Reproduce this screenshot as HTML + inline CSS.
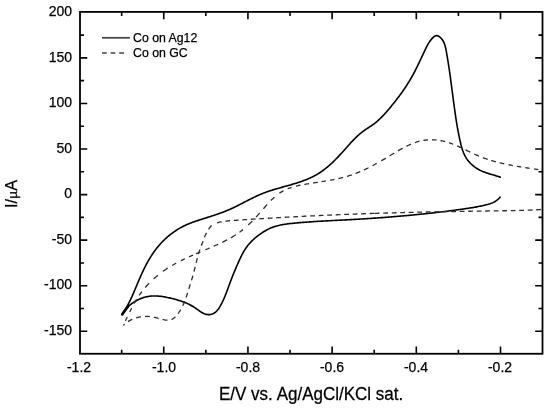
<!DOCTYPE html>
<html><head><meta charset="utf-8"><style>
html,body{margin:0;padding:0;background:#fff;}
body{width:550px;height:411px;position:relative;overflow:hidden;font-family:"Liberation Sans",sans-serif;color:#000;}
.t,.leg{will-change:transform;-webkit-text-stroke:0.25px #000;}
.t{position:absolute;font-size:14px;line-height:14px;white-space:nowrap;}
.xl{transform:translateX(-50%);}
.yl{text-align:right;width:40px;}
.leg{position:absolute;font-size:12.3px;line-height:12px;white-space:nowrap;}
</style></head><body>

<div id="w" style="position:absolute;left:0;top:0;width:550px;height:411px;background:#fff">
<svg width="550" height="411" viewBox="0 0 550 411" style="position:absolute;left:0;top:0">
<path d="M500.00,197.20 L499.32,198.02 L498.61,198.77 L497.86,199.47 L497.09,200.11 L496.29,200.70 L495.46,201.25 L494.61,201.74 L493.75,202.20 L492.86,202.62 L491.95,203.01 L491.03,203.36 L490.10,203.69 L489.15,203.99 L488.20,204.28 L487.24,204.54 L486.27,204.80 L485.30,205.04 L484.34,205.27 L483.36,205.50 L482.39,205.72 L481.42,205.94 L480.44,206.14 L479.46,206.34 L478.48,206.54 L477.50,206.73 L476.52,206.91 L475.54,207.09 L474.56,207.26 L473.57,207.43 L472.59,207.59 L471.60,207.76 L470.62,207.91 L469.63,208.07 L468.64,208.22 L467.65,208.37 L466.67,208.52 L465.68,208.66 L464.69,208.80 L463.70,208.95 L462.71,209.09 L461.72,209.23 L460.73,209.37 L459.74,209.51 L458.75,209.64 L457.76,209.78 L456.77,209.91 L455.78,210.05 L454.79,210.18 L453.80,210.31 L452.81,210.45 L451.82,210.58 L450.83,210.71 L449.84,210.83 L448.85,210.96 L447.85,211.09 L446.86,211.21 L445.87,211.34 L444.88,211.46 L443.89,211.59 L442.90,211.71 L441.90,211.83 L440.91,211.95 L439.92,212.07 L438.93,212.19 L437.94,212.30 L436.94,212.42 L435.95,212.54 L434.96,212.65 L433.97,212.77 L432.97,212.88 L431.98,212.99 L430.99,213.10 L430.00,213.21 L429.00,213.32 L428.01,213.43 L427.02,213.54 L426.02,213.65 L425.03,213.75 L424.04,213.86 L423.04,213.96 L422.05,214.07 L421.05,214.17 L420.06,214.27 L419.07,214.37 L418.07,214.47 L417.08,214.57 L416.08,214.67 L415.09,214.77 L414.10,214.87 L413.10,214.96 L412.11,215.06 L411.11,215.15 L410.12,215.25 L409.12,215.34 L408.13,215.43 L407.13,215.52 L406.14,215.62 L405.14,215.71 L404.15,215.80 L403.15,215.88 L402.16,215.97 L401.16,216.06 L400.17,216.15 L399.17,216.23 L398.18,216.32 L397.18,216.40 L396.19,216.49 L395.19,216.57 L394.20,216.65 L393.20,216.73 L392.20,216.81 L391.21,216.89 L390.21,216.97 L389.22,217.05 L388.22,217.13 L387.23,217.21 L386.23,217.28 L385.23,217.36 L384.24,217.44 L383.24,217.51 L382.25,217.59 L381.25,217.66 L380.25,217.73 L379.26,217.80 L378.26,217.88 L377.26,217.95 L376.27,218.02 L375.27,218.09 L374.28,218.16 L373.28,218.22 L372.28,218.29 L371.29,218.36 L370.29,218.43 L369.29,218.49 L368.30,218.56 L367.30,218.62 L366.30,218.69 L365.31,218.75 L364.31,218.81 L363.32,218.88 L362.32,218.94 L361.32,219.00 L360.33,219.06 L359.33,219.12 L358.33,219.18 L357.34,219.24 L356.34,219.30 L355.34,219.36 L354.35,219.42 L353.35,219.47 L352.35,219.53 L351.36,219.59 L350.36,219.64 L349.36,219.70 L348.37,219.75 L347.37,219.81 L346.37,219.86 L345.38,219.91 L344.38,219.97 L343.38,220.02 L342.39,220.07 L341.39,220.12 L340.39,220.17 L339.40,220.22 L338.40,220.27 L337.40,220.32 L336.41,220.37 L335.41,220.42 L334.42,220.47 L333.42,220.52 L332.42,220.57 L331.43,220.63 L330.43,220.68 L329.43,220.73 L328.44,220.78 L327.44,220.83 L326.44,220.88 L325.45,220.94 L324.45,220.99 L323.45,221.04 L322.46,221.10 L321.46,221.15 L320.46,221.21 L319.47,221.27 L318.47,221.32 L317.47,221.38 L316.48,221.44 L315.48,221.50 L314.48,221.57 L313.48,221.63 L312.49,221.69 L311.49,221.76 L310.49,221.83 L309.50,221.90 L308.50,221.97 L307.50,222.04 L306.50,222.11 L305.51,222.19 L304.51,222.26 L303.51,222.34 L302.51,222.42 L301.52,222.50 L300.52,222.59 L299.52,222.67 L298.52,222.76 L297.52,222.85 L296.53,222.94 L295.53,223.04 L294.53,223.13 L293.53,223.23 L292.53,223.33 L291.53,223.44 L290.54,223.54 L289.54,223.66 L288.54,223.78 L287.55,223.90 L286.56,224.03 L285.57,224.17 L284.58,224.32 L283.59,224.48 L282.61,224.65 L281.63,224.83 L280.65,225.03 L279.68,225.23 L278.72,225.45 L277.75,225.69 L276.80,225.94 L275.84,226.21 L274.90,226.50 L273.96,226.81 L273.02,227.13 L272.10,227.48 L271.18,227.84 L270.26,228.23 L269.36,228.64 L268.46,229.07 L267.57,229.52 L266.68,229.99 L265.81,230.47 L264.94,230.97 L264.08,231.49 L263.23,232.02 L262.38,232.57 L261.55,233.13 L260.72,233.70 L259.90,234.28 L259.08,234.88 L258.28,235.48 L257.48,236.10 L256.70,236.72 L255.92,237.36 L255.16,238.01 L254.40,238.66 L253.66,239.33 L252.93,240.01 L252.21,240.70 L251.50,241.40 L250.81,242.12 L250.13,242.84 L249.47,243.58 L248.82,244.33 L248.18,245.09 L247.56,245.87 L246.96,246.65 L246.38,247.45 L245.81,248.26 L245.26,249.09 L244.73,249.92 L244.21,250.77 L243.70,251.62 L243.21,252.49 L242.73,253.36 L242.26,254.24 L241.80,255.13 L241.35,256.02 L240.90,256.92 L240.47,257.82 L240.04,258.73 L239.62,259.64 L239.20,260.55 L238.78,261.46 L238.37,262.38 L237.96,263.30 L237.55,264.21 L237.15,265.13 L236.75,266.05 L236.35,266.97 L235.96,267.90 L235.56,268.82 L235.18,269.74 L234.79,270.67 L234.41,271.59 L234.03,272.52 L233.65,273.45 L233.28,274.37 L232.91,275.30 L232.54,276.23 L232.17,277.16 L231.81,278.09 L231.45,279.02 L231.09,279.94 L230.74,280.87 L230.39,281.80 L230.04,282.73 L229.69,283.66 L229.35,284.59 L229.01,285.52 L228.67,286.44 L228.33,287.37 L227.99,288.30 L227.66,289.23 L227.32,290.15 L226.97,291.08 L226.63,292.00 L226.28,292.93 L225.92,293.85 L225.56,294.77 L225.19,295.69 L224.82,296.62 L224.43,297.54 L224.03,298.46 L223.63,299.37 L223.21,300.29 L222.78,301.21 L222.33,302.12 L221.88,303.04 L221.40,303.95 L220.91,304.86 L220.40,305.77 L219.88,306.67 L219.33,307.56 L218.76,308.44 L218.16,309.28 L217.53,310.08 L216.87,310.85 L216.18,311.56 L215.45,312.21 L214.68,312.80 L213.87,313.31 L213.02,313.75 L212.12,314.09 L211.19,314.35 L210.24,314.52 L209.28,314.61 L208.32,314.61 L207.36,314.53 L206.42,314.37 L205.50,314.12 L204.60,313.81 L203.70,313.44 L202.82,313.02 L201.94,312.54 L201.08,312.03 L200.22,311.49 L199.37,310.91 L198.52,310.32 L197.67,309.72 L196.82,309.11 L195.97,308.51 L195.12,307.92 L194.26,307.34 L193.40,306.79 L192.53,306.25 L191.65,305.74 L190.77,305.25 L189.89,304.78 L189.00,304.33 L188.10,303.90 L187.20,303.48 L186.30,303.08 L185.38,302.70 L184.47,302.33 L183.55,301.98 L182.62,301.64 L181.69,301.31 L180.76,301.00 L179.82,300.69 L178.88,300.40 L177.93,300.12 L176.98,299.84 L176.03,299.58 L175.07,299.32 L174.11,299.07 L173.15,298.82 L172.18,298.58 L171.20,298.34 L170.23,298.11 L169.25,297.88 L168.27,297.66 L167.29,297.45 L166.30,297.25 L165.31,297.06 L164.32,296.87 L163.33,296.71 L162.34,296.55 L161.35,296.41 L160.35,296.29 L159.36,296.18 L158.36,296.09 L157.37,296.02 L156.37,295.97 L155.38,295.94 L154.39,295.93 L153.39,295.95 L152.40,295.99 L151.41,296.05 L150.42,296.15 L149.44,296.27 L148.45,296.42 L147.47,296.59 L146.49,296.80 L145.52,297.03 L144.56,297.29 L143.59,297.57 L142.64,297.88 L141.69,298.22 L140.76,298.58 L139.83,298.96 L138.91,299.37 L138.00,299.80 L137.10,300.26 L136.22,300.74 L135.34,301.24 L134.49,301.77 L133.64,302.31 L132.81,302.88 L132.00,303.47 L131.20,304.08 L130.42,304.71 L129.66,305.36 L128.92,306.03 L128.19,306.72 L127.49,307.43 L126.81,308.16 L126.15,308.90 L125.51,309.67 L124.90,310.45 L124.31,311.25 L123.74,312.06 L123.20,312.89 L122.69,313.74 L122.20,314.60" fill="none" stroke="#000" stroke-width="1.6" stroke-linejoin="round" stroke-linecap="round"/>
<path d="M121.80,314.40 L122.41,313.59 L123.00,312.77 L123.57,311.94 L124.14,311.11 L124.69,310.27 L125.22,309.42 L125.75,308.57 L126.26,307.72 L126.76,306.86 L127.26,305.99 L127.74,305.12 L128.21,304.25 L128.67,303.37 L129.13,302.49 L129.58,301.60 L130.01,300.71 L130.45,299.82 L130.87,298.92 L131.29,298.02 L131.71,297.12 L132.11,296.21 L132.52,295.30 L132.92,294.39 L133.31,293.48 L133.71,292.57 L134.10,291.65 L134.48,290.73 L134.87,289.81 L135.26,288.89 L135.64,287.97 L136.03,287.05 L136.41,286.12 L136.80,285.20 L137.18,284.27 L137.57,283.35 L137.96,282.43 L138.35,281.50 L138.75,280.58 L139.14,279.66 L139.54,278.74 L139.94,277.82 L140.35,276.90 L140.75,275.98 L141.16,275.06 L141.58,274.15 L142.00,273.23 L142.42,272.32 L142.84,271.41 L143.27,270.51 L143.71,269.60 L144.15,268.70 L144.59,267.80 L145.04,266.91 L145.49,266.01 L145.95,265.12 L146.42,264.24 L146.89,263.36 L147.37,262.48 L147.86,261.60 L148.35,260.73 L148.85,259.87 L149.35,259.01 L149.86,258.15 L150.38,257.30 L150.91,256.45 L151.45,255.61 L151.99,254.78 L152.54,253.95 L153.11,253.12 L153.68,252.30 L154.25,251.49 L154.84,250.69 L155.44,249.89 L156.05,249.09 L156.66,248.31 L157.29,247.53 L157.92,246.75 L158.56,245.99 L159.21,245.23 L159.87,244.48 L160.54,243.74 L161.21,243.00 L161.90,242.28 L162.59,241.56 L163.29,240.85 L164.00,240.15 L164.72,239.45 L165.45,238.77 L166.18,238.09 L166.92,237.43 L167.67,236.77 L168.43,236.12 L169.20,235.49 L169.97,234.86 L170.75,234.24 L171.54,233.63 L172.34,233.03 L173.14,232.45 L173.95,231.87 L174.77,231.31 L175.60,230.75 L176.43,230.21 L177.27,229.68 L178.12,229.15 L178.97,228.64 L179.83,228.15 L180.70,227.66 L181.57,227.19 L182.45,226.73 L183.34,226.28 L184.23,225.84 L185.13,225.42 L186.04,225.00 L186.95,224.60 L187.87,224.20 L188.79,223.82 L189.72,223.44 L190.65,223.07 L191.58,222.71 L192.52,222.36 L193.46,222.02 L194.41,221.68 L195.35,221.35 L196.30,221.02 L197.26,220.70 L198.21,220.38 L199.17,220.06 L200.13,219.75 L201.09,219.45 L202.05,219.14 L203.01,218.84 L203.97,218.54 L204.93,218.23 L205.89,217.93 L206.85,217.63 L207.81,217.33 L208.77,217.03 L209.72,216.73 L210.68,216.42 L211.63,216.11 L212.58,215.80 L213.53,215.49 L214.48,215.17 L215.43,214.86 L216.37,214.53 L217.32,214.21 L218.26,213.88 L219.20,213.55 L220.13,213.21 L221.07,212.87 L222.00,212.52 L222.93,212.17 L223.86,211.81 L224.79,211.45 L225.71,211.08 L226.63,210.71 L227.55,210.33 L228.46,209.94 L229.37,209.55 L230.28,209.15 L231.19,208.74 L232.10,208.33 L233.00,207.91 L233.90,207.48 L234.79,207.05 L235.69,206.61 L236.58,206.17 L237.47,205.72 L238.37,205.27 L239.25,204.82 L240.14,204.36 L241.03,203.90 L241.92,203.44 L242.81,202.98 L243.69,202.52 L244.58,202.06 L245.47,201.60 L246.36,201.13 L247.25,200.67 L248.14,200.22 L249.03,199.76 L249.93,199.31 L250.82,198.86 L251.72,198.41 L252.62,197.97 L253.52,197.54 L254.43,197.10 L255.33,196.68 L256.24,196.25 L257.15,195.84 L258.06,195.43 L258.98,195.03 L259.89,194.63 L260.81,194.24 L261.73,193.86 L262.66,193.49 L263.58,193.12 L264.51,192.77 L265.44,192.42 L266.37,192.08 L267.31,191.74 L268.24,191.42 L269.18,191.10 L270.13,190.79 L271.07,190.48 L272.01,190.18 L272.96,189.89 L273.91,189.59 L274.86,189.31 L275.82,189.02 L276.77,188.74 L277.73,188.47 L278.69,188.19 L279.65,187.92 L280.61,187.65 L281.57,187.38 L282.54,187.11 L283.51,186.84 L284.47,186.57 L285.44,186.30 L286.41,186.03 L287.38,185.76 L288.35,185.48 L289.32,185.21 L290.29,184.93 L291.26,184.65 L292.22,184.37 L293.19,184.08 L294.16,183.79 L295.12,183.50 L296.08,183.20 L297.04,182.90 L298.00,182.59 L298.95,182.28 L299.90,181.96 L300.85,181.64 L301.80,181.31 L302.74,180.97 L303.68,180.62 L304.62,180.27 L305.55,179.91 L306.47,179.54 L307.39,179.16 L308.31,178.77 L309.22,178.38 L310.13,177.97 L311.03,177.56 L311.93,177.13 L312.81,176.69 L313.70,176.24 L314.57,175.78 L315.44,175.31 L316.31,174.83 L317.16,174.33 L318.01,173.82 L318.85,173.30 L319.68,172.76 L320.51,172.22 L321.33,171.66 L322.14,171.09 L322.95,170.51 L323.75,169.91 L324.54,169.31 L325.32,168.70 L326.10,168.08 L326.88,167.45 L327.65,166.81 L328.41,166.16 L329.17,165.50 L329.92,164.84 L330.66,164.17 L331.40,163.49 L332.14,162.80 L332.87,162.11 L333.59,161.41 L334.31,160.71 L335.03,160.00 L335.74,159.28 L336.45,158.56 L337.15,157.84 L337.85,157.11 L338.54,156.38 L339.23,155.65 L339.92,154.91 L340.61,154.17 L341.29,153.43 L341.96,152.68 L342.64,151.94 L343.31,151.19 L343.98,150.45 L344.64,149.70 L345.30,148.95 L345.96,148.20 L346.62,147.46 L347.28,146.71 L347.94,145.97 L348.60,145.23 L349.26,144.49 L349.92,143.75 L350.59,143.02 L351.26,142.29 L351.93,141.57 L352.61,140.84 L353.30,140.13 L353.99,139.42 L354.68,138.71 L355.39,138.01 L356.10,137.32 L356.82,136.63 L357.56,135.95 L358.30,135.28 L359.05,134.62 L359.81,133.96 L360.58,133.32 L361.36,132.68 L362.15,132.06 L362.94,131.44 L363.75,130.84 L364.56,130.25 L365.38,129.67 L366.21,129.10 L367.05,128.55 L367.89,128.00 L368.74,127.47 L369.58,126.93 L370.42,126.39 L371.25,125.84 L372.07,125.28 L372.88,124.71 L373.68,124.12 L374.47,123.51 L375.25,122.90 L376.02,122.27 L376.78,121.63 L377.53,120.98 L378.27,120.32 L379.00,119.65 L379.72,118.97 L380.44,118.28 L381.15,117.59 L381.85,116.88 L382.54,116.16 L383.23,115.44 L383.92,114.71 L384.59,113.98 L385.26,113.24 L385.93,112.49 L386.59,111.74 L387.25,110.98 L387.90,110.23 L388.55,109.46 L389.20,108.70 L389.85,107.93 L390.49,107.16 L391.13,106.39 L391.76,105.61 L392.40,104.83 L393.03,104.06 L393.66,103.28 L394.28,102.49 L394.90,101.71 L395.52,100.92 L396.14,100.13 L396.75,99.34 L397.36,98.55 L397.97,97.75 L398.57,96.95 L399.17,96.15 L399.76,95.35 L400.35,94.54 L400.94,93.74 L401.52,92.92 L402.10,92.11 L402.68,91.30 L403.25,90.48 L403.81,89.66 L404.38,88.83 L404.93,88.01 L405.49,87.18 L406.03,86.35 L406.58,85.51 L407.12,84.67 L407.65,83.83 L408.18,82.99 L408.71,82.14 L409.22,81.29 L409.74,80.44 L410.25,79.59 L410.75,78.73 L411.25,77.87 L411.74,77.00 L412.23,76.13 L412.71,75.26 L413.18,74.39 L413.66,73.51 L414.12,72.63 L414.59,71.75 L415.05,70.87 L415.50,69.98 L415.95,69.09 L416.40,68.20 L416.84,67.31 L417.29,66.41 L417.73,65.51 L418.16,64.61 L418.60,63.71 L419.03,62.81 L419.46,61.91 L419.89,61.00 L420.32,60.10 L420.75,59.19 L421.18,58.28 L421.61,57.37 L422.03,56.46 L422.46,55.55 L422.89,54.64 L423.31,53.73 L423.74,52.81 L424.17,51.90 L424.60,50.99 L425.04,50.07 L425.47,49.16 L425.91,48.25 L426.35,47.34 L426.81,46.44 L427.27,45.54 L427.75,44.65 L428.24,43.78 L428.76,42.92 L429.30,42.07 L429.86,41.24 L430.45,40.43 L431.07,39.64 L431.72,38.88 L432.41,38.14 L433.13,37.43 L433.90,36.76 L434.70,36.19 L435.53,35.78 L436.39,35.57 L437.27,35.64 L438.15,35.96 L439.02,36.46 L439.85,37.09 L440.61,37.78 L441.31,38.51 L441.94,39.27 L442.52,40.07 L443.04,40.89 L443.51,41.75 L443.93,42.63 L444.31,43.53 L444.65,44.46 L444.96,45.40 L445.23,46.36 L445.48,47.33 L445.71,48.32 L445.92,49.31 L446.12,50.31 L446.30,51.31 L446.48,52.31 L446.66,53.31 L446.84,54.32 L447.01,55.32 L447.18,56.31 L447.35,57.31 L447.52,58.31 L447.68,59.31 L447.84,60.30 L448.00,61.30 L448.16,62.29 L448.32,63.29 L448.47,64.28 L448.62,65.28 L448.77,66.27 L448.92,67.26 L449.07,68.25 L449.22,69.24 L449.36,70.23 L449.50,71.22 L449.65,72.21 L449.79,73.20 L449.93,74.19 L450.06,75.18 L450.20,76.16 L450.34,77.15 L450.47,78.14 L450.61,79.13 L450.74,80.11 L450.87,81.10 L451.00,82.08 L451.13,83.07 L451.27,84.06 L451.40,85.04 L451.52,86.03 L451.65,87.01 L451.78,88.00 L451.91,88.98 L452.04,89.97 L452.17,90.95 L452.30,91.94 L452.42,92.93 L452.55,93.91 L452.68,94.90 L452.81,95.88 L452.94,96.87 L453.07,97.85 L453.20,98.84 L453.33,99.83 L453.46,100.81 L453.59,101.80 L453.72,102.79 L453.85,103.78 L453.98,104.77 L454.12,105.75 L454.25,106.74 L454.39,107.73 L454.52,108.72 L454.66,109.71 L454.80,110.70 L454.94,111.69 L455.08,112.68 L455.22,113.67 L455.37,114.66 L455.51,115.65 L455.66,116.64 L455.81,117.64 L455.96,118.63 L456.12,119.62 L456.27,120.61 L456.43,121.60 L456.59,122.59 L456.75,123.58 L456.92,124.57 L457.08,125.56 L457.25,126.54 L457.43,127.53 L457.60,128.52 L457.78,129.51 L457.96,130.50 L458.14,131.48 L458.33,132.47 L458.52,133.45 L458.71,134.44 L458.91,135.42 L459.11,136.41 L459.31,137.39 L459.52,138.37 L459.73,139.35 L459.95,140.33 L460.16,141.31 L460.39,142.29 L460.62,143.26 L460.85,144.24 L461.10,145.20 L461.36,146.17 L461.62,147.13 L461.90,148.08 L462.20,149.03 L462.51,149.97 L462.84,150.91 L463.19,151.83 L463.55,152.75 L463.94,153.65 L464.35,154.55 L464.79,155.43 L465.24,156.30 L465.73,157.16 L466.25,158.01 L466.79,158.84 L467.36,159.66 L467.97,160.46 L468.60,161.25 L469.26,162.01 L469.94,162.76 L470.65,163.49 L471.38,164.20 L472.13,164.89 L472.90,165.56 L473.69,166.20 L474.49,166.82 L475.31,167.42 L476.15,167.99 L477.00,168.53 L477.86,169.05 L478.73,169.54 L479.61,170.00 L480.50,170.44 L481.40,170.86 L482.30,171.26 L483.22,171.64 L484.14,172.00 L485.07,172.35 L486.00,172.68 L486.94,173.01 L487.88,173.32 L488.83,173.62 L489.78,173.92 L490.74,174.21 L491.69,174.49 L492.65,174.78 L493.61,175.07 L494.57,175.35 L495.53,175.64 L496.48,175.94 L497.44,176.24 L498.40,176.55 L499.35,176.87 L500.30,177.20" fill="none" stroke="#000" stroke-width="1.6" stroke-linejoin="round" stroke-linecap="round"/>
<path d="M125.43,320.89 L125.85,319.99 L126.28,319.09 L126.70,318.19 L127.13,317.28 L127.22,317.09 M129.75,311.87 L130.19,310.99 L130.64,310.10 L131.09,309.21 L131.55,308.32 L131.65,308.12 M134.17,303.46 L134.40,303.05 L134.90,302.19 L135.40,301.33 L135.91,300.47 L136.43,299.62 L136.45,299.58 M139.12,295.47 L139.14,295.44 L139.71,294.62 L140.29,293.80 L140.88,293.00 L141.48,292.20 L141.88,291.67 M145.21,287.55 L145.24,287.52 L145.90,286.76 L146.56,286.02 L147.23,285.27 L147.91,284.54 L148.60,283.81 L149.12,283.27 M153.64,278.88 L154.36,278.24 L155.10,277.57 L155.86,276.92 L156.62,276.27 L157.39,275.63 L157.88,275.23 M162.89,271.40 L162.92,271.37 L163.74,270.79 L164.55,270.23 L165.37,269.67 L166.20,269.11 L167.03,268.57 L167.77,268.09 M172.13,265.44 L172.96,264.96 L173.82,264.47 L174.68,263.99 L175.55,263.51 L176.14,263.19 M180.84,260.75 L181.73,260.31 L182.62,259.87 L183.52,259.44 L184.42,259.01 L184.98,258.74 M188.97,256.89 L189.85,256.50 L190.76,256.09 L191.67,255.68 L192.59,255.28 L192.99,255.10 M196.11,253.75 L196.26,253.68 L197.18,253.29 L198.11,252.89 L199.03,252.50 L199.95,252.11 L200.34,251.94 M205.32,249.84 L205.50,249.76 L206.42,249.37 L207.34,248.98 L208.27,248.58 L209.19,248.19 L209.55,248.03 M213.77,246.20 L213.80,246.19 L214.72,245.78 L215.63,245.38 L216.55,244.97 L217.46,244.55 L218.15,244.24 M222.22,242.32 L222.90,241.99 L223.80,241.55 L224.69,241.11 L225.58,240.66 L226.47,240.20 L227.13,239.85 M230.82,237.83 L230.84,237.82 L231.70,237.33 L232.55,236.82 L233.40,236.31 L234.24,235.79 L235.08,235.27 L235.77,234.82 M239.48,232.28 L239.96,231.93 L240.75,231.34 L241.54,230.74 L242.31,230.13 L243.05,229.53 M248.32,224.92 L249.01,224.27 L249.73,223.58 L250.44,222.88 L251.15,222.18 L251.86,221.47 L252.24,221.08 M256.03,217.08 L256.69,216.36 L257.36,215.62 L258.04,214.86 L258.72,214.11 L259.39,213.35 L259.70,212.99 M263.38,208.77 L263.40,208.75 L264.07,207.98 L264.74,207.21 L265.41,206.45 L266.08,205.69 L266.76,204.93 L267.15,204.50 M270.93,200.50 L271.61,199.81 L272.32,199.12 L273.04,198.43 L273.77,197.76 L274.48,197.12 M279.41,193.21 L279.89,192.88 L280.70,192.34 L281.52,191.83 L282.36,191.33 L283.20,190.86 L283.41,190.75" fill="none" stroke="#2e2e2e" stroke-width="1.3"/>
<path d="M541.00,209.50 L541.00,209.50 L540.00,209.57 L539.00,209.63 L538.01,209.69 L537.01,209.75 L536.01,209.81 L535.01,209.86 L534.01,209.92 L533.01,209.97 L532.02,210.02 L531.02,210.06 L530.02,210.11 L529.02,210.15 L528.02,210.19 L527.02,210.23 L526.03,210.26 L525.03,210.30 L524.03,210.33 L523.03,210.36 L522.03,210.39 L521.04,210.42 L520.04,210.45 L519.04,210.47 L518.04,210.50 L517.04,210.52 L516.04,210.54 L515.05,210.57 L514.05,210.59 L513.05,210.61 L512.05,210.62 L511.05,210.64 L510.05,210.66 L509.06,210.68 L508.06,210.69 L507.06,210.71 L506.06,210.72 L505.06,210.74 L504.06,210.75 L503.06,210.76 L502.07,210.78 L501.07,210.79 L500.07,210.81 L499.07,210.82 L498.07,210.83 L497.07,210.85 L496.07,210.86 L495.08,210.87 L494.08,210.89 L493.08,210.90 L492.08,210.92 L491.08,210.93 L490.08,210.94 L489.08,210.96 L488.08,210.97 L487.08,210.99 L486.09,211.00 L485.09,211.01 L484.09,211.03 L483.09,211.04 L482.09,211.06 L481.09,211.07 L480.09,211.09 L479.09,211.10 L478.09,211.12 L477.10,211.13 L476.10,211.15 L475.10,211.16 L474.10,211.18 L473.10,211.19 L472.10,211.21 L471.10,211.22 L470.10,211.24 L469.10,211.25 L468.10,211.27 L467.10,211.28 L466.11,211.30 L465.11,211.31 L464.11,211.33 L463.11,211.34 L462.11,211.36 L461.11,211.38 L460.11,211.39 L459.11,211.41 L458.11,211.43 L457.11,211.44 L456.11,211.46 L455.11,211.48 L454.12,211.49 L453.12,211.51 L452.12,211.53 L451.12,211.54 L450.12,211.56 L449.12,211.58 L448.12,211.60 L447.12,211.61 L446.12,211.63 L445.12,211.65 L444.12,211.67 L443.12,211.68 L442.13,211.70 L441.13,211.72 L440.13,211.74 L439.13,211.76 L438.13,211.78 L437.13,211.80 L436.13,211.82 L435.13,211.83 L434.13,211.85 L433.13,211.87 L432.13,211.89 L431.13,211.91 L430.13,211.93 L429.14,211.95 L428.14,211.97 L427.14,212.00 L426.14,212.02 L425.14,212.04 L424.14,212.06 L423.14,212.08 L422.14,212.10 L421.14,212.12 L420.14,212.14 L419.14,212.17 L418.14,212.19 L417.15,212.21 L416.15,212.23 L415.15,212.26 L414.15,212.28 L413.15,212.30 L412.15,212.33 L411.15,212.35 L410.15,212.37 L409.15,212.40 L408.15,212.42 L407.16,212.45 L406.16,212.47 L405.16,212.49 L404.16,212.52 L403.16,212.55 L402.16,212.57 L401.16,212.60 L400.16,212.62 L399.16,212.65 L398.17,212.67 L397.17,212.70 L396.17,212.73 L395.17,212.75 L394.17,212.78 L393.17,212.81 L392.17,212.84 L391.17,212.87 L390.18,212.89 L389.18,212.92 L388.18,212.95 L387.18,212.98 L386.18,213.01 L385.18,213.04 L384.18,213.07 L383.19,213.10 L382.19,213.13 L381.19,213.16 L380.19,213.19 L379.19,213.22 L378.19,213.25 L377.19,213.28 L376.20,213.31 L375.20,213.35 L374.75,213.36" fill="none" stroke="#2e2e2e" stroke-width="1.3" stroke-dasharray="4.80 3.70" stroke-dashoffset="0.00"/>
<path d="M374.75,213.36 L374.20,213.38 L373.20,213.41 L372.20,213.44 L371.20,213.48 L370.21,213.51 L369.21,213.54 L368.21,213.58 L367.21,213.61 L366.21,213.65 L365.21,213.68 L364.22,213.72 L363.22,213.75 L362.22,213.79 L361.22,213.82 L360.22,213.86 L359.23,213.89 L358.23,213.93 L357.23,213.97 L356.23,214.00 L355.23,214.04 L354.24,214.08 L353.24,214.12 L352.24,214.15 L351.24,214.19 L350.24,214.23 L349.25,214.27 L348.25,214.31 L347.25,214.35 L346.25,214.39 L345.25,214.43 L344.26,214.47 L343.26,214.51 L342.26,214.55 L341.26,214.59 L340.27,214.63 L339.27,214.67 L338.27,214.71 L337.27,214.75 L336.27,214.79 L335.28,214.84 L334.28,214.88 L333.28,214.92 L332.28,214.96 L331.29,215.01 L330.29,215.05 L329.29,215.09 L328.29,215.14 L327.29,215.18 L326.30,215.23 L325.30,215.27 L324.30,215.32 L323.30,215.36 L322.31,215.41 L321.31,215.45 L320.31,215.50 L319.31,215.55 L318.32,215.59 L317.32,215.64 L316.32,215.69 L315.32,215.73 L314.32,215.78 L313.33,215.83 L312.33,215.88 L311.33,215.92 L310.33,215.97 L309.34,216.02 L308.34,216.07 L307.34,216.12 L306.34,216.17 L305.35,216.22 L304.35,216.27 L303.35,216.32 L302.35,216.37 L301.36,216.42 L300.36,216.47 L299.36,216.52 L298.36,216.57 L297.37,216.63 L296.37,216.68 L295.37,216.73 L294.37,216.78 L293.37,216.84 L292.38,216.89 L291.38,216.94 L290.38,217.00 L289.38,217.05 L288.39,217.10 L287.39,217.16 L286.39,217.21 L285.39,217.27 L284.40,217.32 L283.40,217.38 L282.40,217.43 L281.40,217.49 L280.40,217.54 L279.41,217.60 L278.41,217.66 L277.41,217.71 L276.41,217.77 L275.42,217.83 L274.42,217.88 L273.42,217.94 L272.42,218.00 L271.42,218.06 L270.43,218.12 L269.43,218.18 L268.43,218.23 L267.43,218.29 L266.44,218.35 L265.44,218.41 L264.44,218.47 L263.44,218.53 L262.44,218.59 L261.45,218.65 L260.45,218.72 L259.45,218.78 L258.45,218.84 L257.45,218.90 L256.46,218.96 L255.46,219.02 L254.46,219.09 L253.46,219.15 L252.46,219.21 L251.47,219.27 L250.47,219.34 L249.47,219.40 L248.47,219.47 L247.47,219.53 L246.48,219.59 L245.48,219.66 L244.48,219.72 L243.48,219.79 L242.48,219.85 L241.49,219.92 L240.49,219.99 L239.49,220.05 L238.49,220.12 L237.49,220.18 L236.49,220.25 L235.50,220.32 L234.50,220.39 L233.50,220.46 L232.50,220.53 L231.51,220.61 L230.51,220.69 L229.51,220.77 L228.52,220.87 L227.53,220.97 L226.54,221.08 L225.55,221.20 L224.56,221.33 L223.58,221.47 L222.59,221.63 L221.61,221.80 L220.64,221.98 L219.66,222.18 L218.69,222.40 L217.72,222.63 L216.76,222.88 L215.80,223.17 L215.00,223.46" fill="none" stroke="#2e2e2e" stroke-width="1.3" stroke-dasharray="4.80 3.70" stroke-dashoffset="8.20"/>
<path d="M215.00,223.46 L214.88,223.50 L213.98,223.90 L213.13,224.37 L212.33,224.93 L211.58,225.57 L210.88,226.27 L210.22,227.02 L209.60,227.79 L209.01,228.58 L208.45,229.40 L207.91,230.24 L207.41,231.10 L206.92,231.98 L206.46,232.87 L206.02,233.77 L205.60,234.69 L205.19,235.61 L204.80,236.55 L204.42,237.49 L204.05,238.43 L203.69,239.38 L203.33,240.32 L202.97,241.27 L202.62,242.21 L202.27,243.15 L201.92,244.08 L201.57,245.01 L201.23,245.94 L200.89,246.87 L200.55,247.80 L200.22,248.73 L199.89,249.66 L199.57,250.59 L199.26,251.53 L198.96,252.47 L198.66,253.41 L198.38,254.36 L198.10,255.31 L197.83,256.27 L197.57,257.23 L197.32,258.19 L197.07,259.16 L196.82,260.13 L196.58,261.10 L196.35,262.08 L196.11,263.05 L195.88,264.03 L195.65,265.01 L195.41,265.98 L195.18,266.96 L194.94,267.94 L194.70,268.91 L194.46,269.88 L194.21,270.85 L193.96,271.82 L193.70,272.79 L193.44,273.75 L193.17,274.71 L192.89,275.67 L192.61,276.62 L192.33,277.58 L192.04,278.53 L191.76,279.48 L191.46,280.44 L191.17,281.39 L190.88,282.34 L190.58,283.29 L190.28,284.24 L189.98,285.19 L189.69,286.14 L189.39,287.09 L189.10,288.04 L188.80,289.00 L188.51,289.95 L188.21,290.91 L187.92,291.86 L187.62,292.82 L187.32,293.77 L187.01,294.72 L186.70,295.67 L186.38,296.62 L186.06,297.56 L185.73,298.50 L185.39,299.44 L185.04,300.38 L184.68,301.31 L184.30,302.23 L183.92,303.15 L183.52,304.07 L183.11,304.97 L182.69,305.87 L182.24,306.77 L181.78,307.66 L181.31,308.54 L180.81,309.41 L180.30,310.27 L179.76,311.12 L179.20,311.97 L178.63,312.80 L178.02,313.63 L177.40,314.44 L176.75,315.23 L176.07,316.00 L175.36,316.74 L174.63,317.42 L173.87,318.06 L173.08,318.62 L172.26,319.12 L171.40,319.53 L170.52,319.85 L169.59,320.06 L168.64,320.18 L167.67,320.22 L166.67,320.18 L165.67,320.07 L164.65,319.92 L163.63,319.72 L162.62,319.50 L161.61,319.26 L160.61,319.01 L159.62,318.76 L158.64,318.50 L157.66,318.24 L156.69,317.98 L155.72,317.73 L154.76,317.49 L153.79,317.27 L152.83,317.06 L151.86,316.87 L150.89,316.70 L149.92,316.57 L148.94,316.46 L147.95,316.38 L146.97,316.34 L145.98,316.33 L144.98,316.34 L143.99,316.39 L143.00,316.47 L142.00,316.58 L141.01,316.72 L140.03,316.89 L139.04,317.09 L138.06,317.32 L137.09,317.58 L136.13,317.86 L135.18,318.18 L134.23,318.52 L133.30,318.89 L132.37,319.29 L131.46,319.71 L130.57,320.16 L129.69,320.64 L128.82,321.15 L127.97,321.68 L127.14,322.23 L126.33,322.82 L125.54,323.43 L124.77,324.06 L124.02,324.72 L123.30,325.40" fill="none" stroke="#2e2e2e" stroke-width="1.3" stroke-dasharray="4.90 4.10" stroke-dashoffset="5.03"/>
<path d="M287.70,188.76 L288.53,188.43 L289.45,188.09 L290.38,187.77 L291.32,187.46 L291.60,187.38 M296.00,186.15 L296.13,186.12 L297.11,185.89 L298.09,185.67 L299.08,185.45 L300.07,185.25 L300.40,185.18 M304.40,184.43 L305.04,184.31 L306.03,184.14 L307.03,183.97 L308.02,183.81 L309.02,183.64 L309.10,183.63 M313.10,182.99 L313.98,182.86 L314.97,182.70 L315.96,182.55 L316.95,182.40 L317.80,182.27 M321.50,181.69 L321.89,181.63 L322.88,181.48 L323.87,181.32 L324.85,181.16 L325.80,181.00 M330.20,180.25 L330.73,180.15 L331.71,179.97 L332.69,179.78 L333.66,179.60 L334.50,179.43 M338.40,178.60 L338.52,178.58 L339.48,178.35 L340.45,178.13 L341.41,177.89 L342.38,177.65 L343.10,177.46 M347.10,176.35 L347.17,176.33 L348.13,176.04 L349.08,175.74 L350.03,175.44 L350.98,175.12 L351.80,174.84 M355.50,173.50 L355.69,173.43 L356.63,173.07 L357.56,172.70 L358.49,172.32 L359.42,171.94 L360.20,171.61 M363.80,170.03 L364.02,169.93 L364.93,169.51 L365.83,169.08 L366.73,168.65 L367.63,168.21 L368.50,167.78 M372.50,165.71 L372.95,165.47 L373.83,165.00 L374.70,164.52 L375.57,164.04 L376.44,163.56 L376.70,163.41 M381.30,160.77 L381.60,160.59 L382.46,160.09 L383.32,159.58 L384.17,159.08 L385.03,158.57 L385.88,158.06 L385.90,158.05 M389.60,155.83 L390.15,155.50 L391.01,154.99 L391.87,154.48 L392.73,153.96 L393.59,153.45 L394.20,153.09 M398.00,150.86 L398.78,150.41 L399.66,149.91 L400.54,149.41 L401.42,148.92 L402.30,148.43 L402.60,148.27 M406.40,146.28 L406.76,146.10 L407.66,145.65 L408.57,145.22 L409.48,144.80 L410.39,144.40 L411.00,144.14 M414.90,142.61 L415.03,142.57 L415.97,142.25 L416.91,141.95 L417.86,141.66 L418.82,141.40 L419.50,141.23 M423.40,140.43 L423.66,140.39 L424.64,140.24 L425.63,140.12 L426.61,140.02 L427.60,139.93 L428.00,139.91 M432.00,139.80 L432.57,139.81 L433.56,139.84 L434.56,139.89 L435.55,139.96 L436.54,140.04 L436.60,140.05 M440.50,140.57 L441.47,140.74 L442.44,140.94 L443.42,141.15 L444.38,141.37 L445.10,141.56 M448.90,142.67 L449.15,142.75 L450.09,143.07 L451.03,143.41 L451.96,143.75 L452.89,144.11 L453.20,144.23 M457.20,145.91 L457.48,146.04 L458.40,146.45 L459.31,146.87 L460.22,147.29 L461.12,147.72 L462.00,148.14 M465.50,149.84 L465.65,149.91 L466.55,150.36 L467.45,150.80 L468.36,151.24 L469.26,151.68 L470.16,152.12 L470.30,152.19 M474.20,154.03 L474.71,154.26 L475.62,154.67 L476.54,155.08 L477.46,155.47 L478.38,155.86 L479.00,156.12 M482.90,157.64 L483.02,157.69 L483.96,158.03 L484.90,158.36 L485.84,158.69 L486.78,159.01 L487.70,159.32 M491.20,160.42 L491.52,160.52 L492.47,160.80 L493.43,161.08 L494.39,161.35 L495.35,161.61 L496.00,161.79 M499.70,162.74 L500.17,162.86 L501.14,163.09 L502.11,163.32 L503.08,163.54 L504.05,163.76 L504.30,163.82 M508.50,164.71 L508.93,164.80 L509.91,164.99 L510.89,165.18 L511.87,165.37 L512.85,165.55 L512.90,165.56 M516.90,166.28 L517.77,166.43 L518.75,166.60 L519.74,166.76 L520.73,166.92 L521.30,167.02 M525.30,167.65 L525.66,167.71 L526.65,167.86 L527.64,168.01 L528.63,168.15 L529.60,168.30 M534.00,168.95 L534.55,169.03 L535.54,169.17 L536.53,169.31 L537.51,169.46 L538.30,169.57" fill="none" stroke="#2e2e2e" stroke-width="1.3"/>
<path d="M122.3,314.3 L127.9,306.4" fill="none" stroke="#000" stroke-width="2.6" stroke-linecap="round"/>
<path d="M121.66,353.75 V349.75 M121.66,11.90 V15.90 M163.75,353.75 V346.45 M163.75,11.90 V19.20 M205.84,353.75 V349.75 M205.84,11.90 V15.90 M247.94,353.75 V346.45 M247.94,11.90 V19.20 M290.03,353.75 V349.75 M290.03,11.90 V15.90 M332.13,353.75 V346.45 M332.13,11.90 V19.20 M374.22,353.75 V349.75 M374.22,11.90 V15.90 M416.31,353.75 V346.45 M416.31,11.90 V19.20 M458.41,353.75 V349.75 M458.41,11.90 V15.90 M500.50,353.75 V346.45 M500.50,11.90 V19.20 M80.00,35.09 H84.00 M542.50,35.09 H538.50 M80.00,57.87 H87.30 M542.50,57.87 H535.20 M80.00,80.66 H84.00 M542.50,80.66 H538.50 M80.00,103.44 H87.30 M542.50,103.44 H535.20 M80.00,126.22 H84.00 M542.50,126.22 H538.50 M80.00,149.01 H87.30 M542.50,149.01 H535.20 M80.00,171.80 H84.00 M542.50,171.80 H538.50 M80.00,194.58 H87.30 M542.50,194.58 H535.20 M80.00,217.37 H84.00 M542.50,217.37 H538.50 M80.00,240.15 H87.30 M542.50,240.15 H535.20 M80.00,262.94 H84.00 M542.50,262.94 H538.50 M80.00,285.72 H87.30 M542.50,285.72 H535.20 M80.00,308.50 H84.00 M542.50,308.50 H538.50 M80.00,331.29 H87.30 M542.50,331.29 H535.20" fill="none" stroke="#000" stroke-width="1.6"/>
<rect x="80.00" y="11.90" width="462.50" height="341.85" fill="none" stroke="#000" stroke-width="1.8"/>
<path d="M102,37.8 H130" stroke="#444" stroke-width="1.7"/>
<path d="M102,53 H124.5" stroke="#444" stroke-width="1.6" stroke-dasharray="4.8 3.8"/>
</svg>
<div class="t xl" style="left:79.4px;top:359.8px">-1.2</div>
<div class="t xl" style="left:163.6px;top:359.8px">-1.0</div>
<div class="t xl" style="left:247.7px;top:359.8px">-0.8</div>
<div class="t xl" style="left:331.9px;top:359.8px">-0.6</div>
<div class="t xl" style="left:416.1px;top:359.8px">-0.4</div>
<div class="t xl" style="left:500.3px;top:359.8px">-0.2</div>
<div class="t yl" style="left:32.3px;top:4.0px">200</div>
<div class="t yl" style="left:32.3px;top:49.6px">150</div>
<div class="t yl" style="left:32.3px;top:95.1px">100</div>
<div class="t yl" style="left:32.3px;top:140.7px">50</div>
<div class="t yl" style="left:32.3px;top:186.3px">0</div>
<div class="t yl" style="left:32.3px;top:231.8px">-50</div>
<div class="t yl" style="left:32.3px;top:277.4px">-100</div>
<div class="t yl" style="left:32.3px;top:323.0px">-150</div>
<div class="leg" style="left:133.3px;top:31.6px">Co on Ag12</div>
<div class="leg" style="left:133.3px;top:46.6px">Co on GC</div>
<div class="t" style="left:218.5px;top:384.5px;font-size:17px;line-height:17px;transform-origin:0 0;transform:scaleY(1.05)">E/V vs. Ag/AgCl/KCl sat.</div>
<div class="t" style="left:3px;top:207.8px;font-size:16.3px;line-height:17px;transform-origin:0 0;transform:rotate(-90deg)">I/<span style="font-size:13.5px;margin:0 0.4px 0 0.1px">&micro;</span>A</div>
</div></body></html>
